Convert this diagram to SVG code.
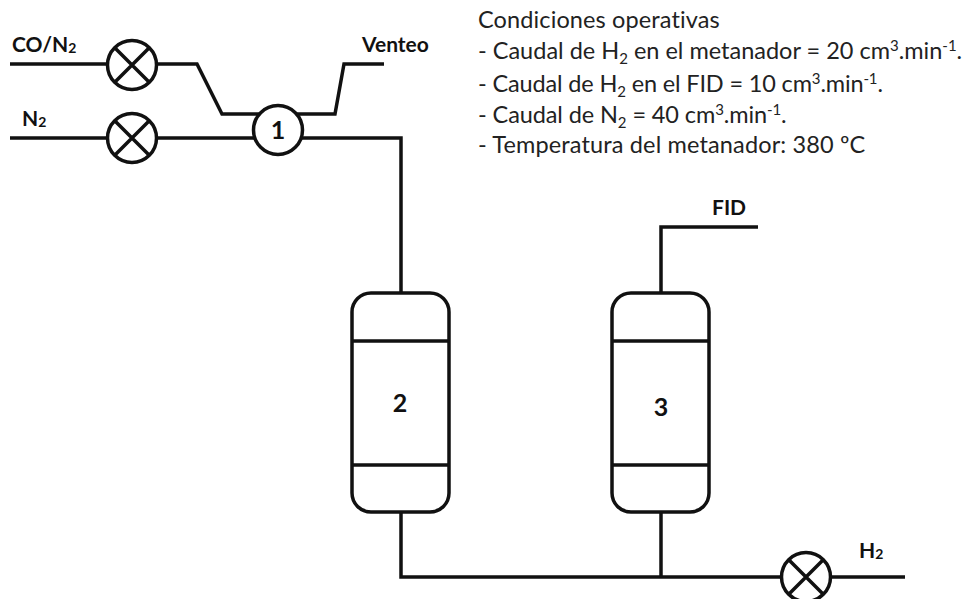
<svg xmlns="http://www.w3.org/2000/svg" width="967" height="599" viewBox="0 0 967 599">
<style>
.l{fill:none;stroke:#111;stroke-width:3.5}
.n{fill:#fff;stroke:#111;stroke-width:3.5}
.t{font-family:Lato,"Liberation Sans",sans-serif;fill:#222;font-size:23.5px}
.b{font-family:Lato,"Liberation Sans",sans-serif;fill:#111;font-size:21px;font-weight:700}
.s{font-size:15px}
.u{font-size:14px}
.num{font-size:25px}
</style>
<defs>
<g id="valve"><circle class="n" r="24.5"/><path class="l" d="M-17.5-17.5L17.5 17.5M17.5-17.5L-17.5 17.5"/></g>
</defs>
<g id="connectors">
<path class="l" d="M10 64H197L222 114H335L344 64H384"/>
<path class="l" d="M10 138H401V293"/>
<path class="l" d="M661 293V227H758"/>
<path class="l" d="M401 512V577H905"/>
<path class="l" d="M661 512V577"/>
</g>
<g id="valve-co"><use href="#valve" x="132" y="65"/></g>
<g id="valve-n2"><use href="#valve" x="132" y="138"/></g>
<g id="valve-h2"><use href="#valve" x="806" y="577"/></g>
<g id="node-1"><circle class="n" cx="278" cy="130" r="24.5"/><text class="b num" x="278" y="139" text-anchor="middle">1</text></g>
<g id="node-2"><rect class="n" x="352" y="293" width="97" height="219" rx="19"/><path class="l" d="M352 341H449M352 465H449"/><text class="b num" x="400" y="412" text-anchor="middle">2</text></g>
<g id="node-3"><rect class="n" x="612" y="293" width="97" height="219" rx="19"/><path class="l" d="M612 341H709M612 465H709"/><text class="b num" x="661" y="416" text-anchor="middle">3</text></g>
<g id="labels">
<text class="b" x="12" y="52">CO/N<tspan class="u" dy="1">2</tspan></text>
<text class="b" x="22" y="126">N<tspan class="u" dy="1">2</tspan></text>
<text class="b" x="362" y="52">Venteo</text>
<text class="b" x="712" y="215">FID</text>
<text class="b" x="859" y="558">H<tspan class="u" dy="1">2</tspan></text>
</g>
<g id="conditions">
<text class="t" x="478" y="28" letter-spacing=".12">Condiciones operativas</text>
<text class="t" x="478" y="59">- Caudal de H<tspan class="s" dy="5">2</tspan><tspan dy="-5"> en el metanador = 20 cm</tspan><tspan class="s" dy="-8">3</tspan><tspan dy="8">.min</tspan><tspan class="s" dy="-8">-1</tspan><tspan dy="8">.</tspan></text>
<text class="t" x="478" y="92" letter-spacing="-.15">- Caudal de H<tspan class="s" dy="5">2</tspan><tspan dy="-5"> en el FID = 10 cm</tspan><tspan class="s" dy="-8">3</tspan><tspan dy="8">.min</tspan><tspan class="s" dy="-8">-1</tspan><tspan dy="8">.</tspan></text>
<text class="t" x="478" y="123" letter-spacing="-.1">- Caudal de N<tspan class="s" dy="5">2</tspan><tspan dy="-5"> = 40 cm</tspan><tspan class="s" dy="-8">3</tspan><tspan dy="8">.min</tspan><tspan class="s" dy="-8">-1</tspan><tspan dy="8">.</tspan></text>
<text class="t" x="478" y="153" letter-spacing=".14">- Temperatura del metanador: 380 ºC</text>
</g>
</svg>
